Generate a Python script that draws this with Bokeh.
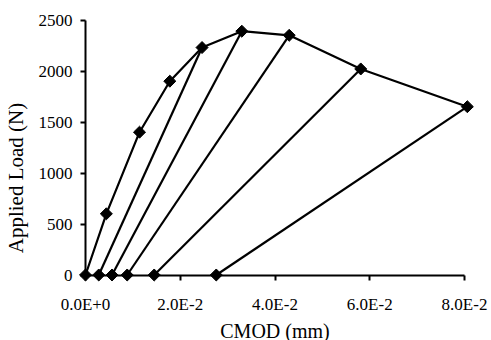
import math
from bokeh.plotting import figure
from bokeh.models import FixedTicker, Range1d, LinearAxis
from bokeh.embed import file_html
from bokeh.resources import INLINE

# Loading envelope (CMOD mm, load N)
load_x = [0.0, 0.0044, 0.0114, 0.0178, 0.0246, 0.0330, 0.0430, 0.0581, 0.0806]
load_y = [0, 600, 1400, 1900, 2230, 2390, 2350, 2020, 1650]
# Residual CMOD after unloading, and the envelope point each unloading starts from
resid_x = [0.0028, 0.0056, 0.0088, 0.0145, 0.0276]
resid_y = [0, 0, 0, 0, 0]
unload_from = [4, 5, 6, 7, 8]

x_ticks = [0.0, 0.02, 0.04, 0.06, 0.08]
x_tick_labels = ["0.0E+0", "2.0E-2", "4.0E-2", "6.0E-2", "8.0E-2"]
y_ticks = [0, 500, 1000, 1500, 2000, 2500]

FONT = "Liberation Serif"

W, H = 491, 340
# pixel layout of the frame (frame fills the whole canvas; axes sit at data zero)
x0_px, x_scale = 85.0, 4737.5     # px of x=0, px per mm
y0_px, y_scale = 274.5, 0.102     # px of y=0, px per N

p = figure(width=W, height=H, output_backend="svg", toolbar_location=None,
           x_range=Range1d(-x0_px / x_scale, (W - x0_px) / x_scale),
           y_range=Range1d(-(H - y0_px) / y_scale, y0_px / y_scale),
           min_border=0, min_border_left=0, min_border_right=0,
           min_border_top=0, min_border_bottom=0)
p.outline_line_color = None
p.grid.visible = False
p.background_fill_color = "white"
p.border_fill_color = "white"

# unloading lines
uxs = [[resid_x[i], load_x[k]] for i, k in enumerate(unload_from)]
uys = [[resid_y[i], load_y[k]] for i, k in enumerate(unload_from)]
p.multi_line(uxs, uys, line_color="black", line_width=2.2)
# envelope
p.line(load_x, load_y, line_color="black", line_width=2.2)

# markers (diamonds)
mx = load_x + resid_x
my = load_y + resid_y
p.scatter(mx, my, marker="square", size=8.5, angle=math.pi / 4,
          fill_color="black", line_color="black", line_width=1)

xa = p.xaxis[0]
xa.ticker = FixedTicker(ticks=x_ticks)
xa.major_label_overrides = {t: l for t, l in zip(x_ticks, x_tick_labels)}
xa.bounds = (0, 0.08)
xa.fixed_location = 0
xa.axis_label = "CMOD (mm)"

ya = p.yaxis[0]
ya.ticker = FixedTicker(ticks=y_ticks)
ya.bounds = (0, 2500)
ya.fixed_location = 0

for ax in (xa, ya):
    ax.axis_line_color = "black"
    ax.axis_line_width = 2
    ax.major_tick_line_color = "black"
    ax.major_tick_line_width = 2
    ax.major_tick_out = 5
    ax.major_tick_in = 0
    ax.minor_tick_line_color = None
    ax.major_label_text_font = FONT
    ax.major_label_text_font_size = "17px"
    ax.major_label_text_color = "black"
    ax.axis_label_text_font = FONT
    ax.axis_label_text_font_size = "20px"
    ax.axis_label_text_font_style = "normal"
    ax.axis_label_text_color = "black"

xa.major_label_standoff = 15
xa.axis_label_standoff = 2
ya.major_label_standoff = 8

# y-axis title carried by a bare axis so it sits where the original has it
ytitle = LinearAxis(ticker=FixedTicker(ticks=[]), fixed_location=0,
                    bounds=(0, 1910), axis_line_color=None,
                    major_tick_line_color=None, minor_tick_line_color=None,
                    axis_label="Applied Load (N)",
                    axis_label_text_font=FONT, axis_label_text_font_size="21px",
                    axis_label_text_font_style="normal",
                    axis_label_text_color="black", axis_label_standoff=58)
p.add_layout(ytitle, "left")

open("out.html", "w").write(file_html(p, INLINE))
